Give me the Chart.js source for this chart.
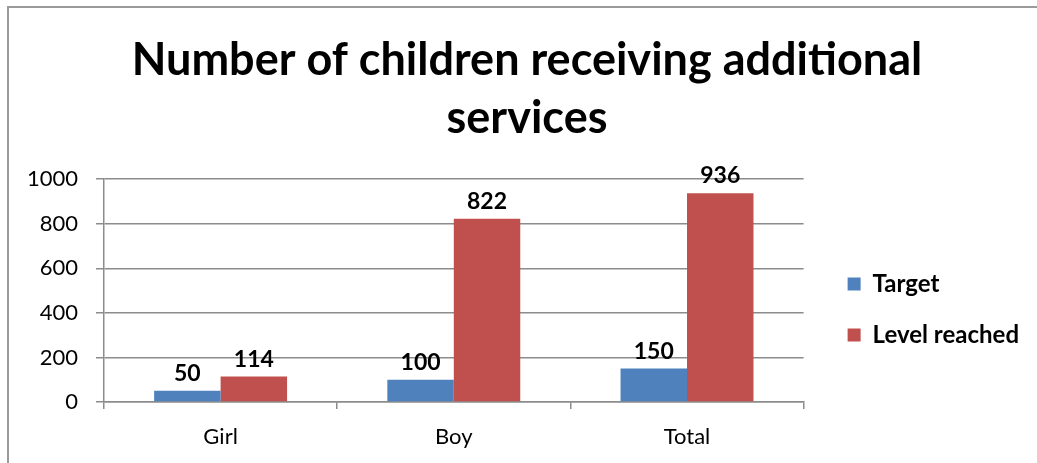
<!DOCTYPE html>
<html>
<head>
<meta charset="utf-8">
<script src="https://cdn.jsdelivr.net/npm/chart.js@4"></script>
<style>
  body { margin: 0; background: #fff; overflow: hidden; }
  #frame { position: absolute; left: 7px; top: 6px; width: 1100px; height: 520px; border: 2px solid #9a9a9a; box-sizing: border-box; }
  #wrap { position: absolute; left: 0; top: 0; width: 1037px; height: 463px; }
</style>
</head>
<body>
<div id="frame"></div>
<div id="wrap"><canvas id="childrenChart" width="1037" height="463"></canvas></div>
<script>
var categories = ["Girl", "Boy", "Total"];
var targetValues = [50, 100, 150];
var reachedValues = [114, 822, 936];
var yTicks = [0, 200, 400, 600, 800, 1000];

var gridColor = "#8c8c8c";
var fontFamily = "Lato, 'Open Sans', sans-serif";

// writes each bar's value just above it
var barValueLabels = {
  id: "barValueLabels",
  afterDatasetsDraw: function(chart) {
    var ctx = chart.ctx;
    ctx.save();
    ctx.fillStyle = "#000";
    ctx.font = "bold 23px " + fontFamily;
    ctx.textAlign = "center";
    ctx.textBaseline = "alphabetic";
    chart.data.datasets.forEach(function(ds, i) {
      chart.getDatasetMeta(i).data.forEach(function(bar, j) {
        ctx.fillText(String(ds.data[j]), bar.x, bar.y - 10);
      });
    });
    ctx.restore();
  }
};

new Chart("childrenChart", {
  type: "bar",
  data: {
    labels: categories,
    datasets: [{
      label: "Target",
      data: targetValues,
      backgroundColor: "#4f81bd"
    }, {
      label: "Level reached",
      data: reachedValues,
      backgroundColor: "#c0504d"
    }]
  },
  options: {
    responsive: false,
    animation: false,
    datasets: {
      bar: { categoryPercentage: 0.57, barPercentage: 1 }
    },
    layout: { padding: { top: 0, right: 8, bottom: 13, left: 25 } },
    plugins: {
      tooltip: { enabled: false },
      title: {
        display: true,
        text: ["Number of children receiving additional", "services"],
        color: "#000",
        font: { family: fontFamily, size: 45, weight: "bold", lineHeight: 1.29 },
        padding: { top: 31, bottom: 32 }
      },
      legend: {
        position: "right",
        fullSize: false,
        maxWidth: 260,
        title: { display: true, text: "", font: { size: 14, lineHeight: 1 }, padding: { top: 24, bottom: 0 } },
        labels: {
          boxWidth: 13,
          boxHeight: 13,
          padding: 27,
          color: "#000",
          font: { family: fontFamily, size: 24, weight: "bold" }
        }
      }
    },
    scales: {
      x: {
        afterFit: function(scale) { scale.height = 48; },
        grid: { drawOnChartArea: false, color: gridColor, tickLength: 7, lineWidth: 1.5 },
        border: { color: gridColor, width: 1.5 },
        ticks: { color: "#000", padding: 15, font: { family: fontFamily, size: 22 } }
      },
      y: {
        min: 0,
        max: 1000,
        afterFit: function(scale) { scale.width = 79; },
        afterBuildTicks: function(scale) {
          scale.ticks = yTicks.map(function(v) { return { value: v }; });
        },
        grid: { color: gridColor, tickLength: 8, lineWidth: 1.5 },
        border: { color: gridColor, width: 1.5 },
        ticks: {
          color: "#000",
          padding: 18,
          font: { family: fontFamily, size: 22 },
          callback: function(v) { return String(v); }
        }
      },
      gap: {
        type: "linear",
        position: "right",
        grid: { display: false },
        border: { display: false },
        ticks: { display: false },
        afterFit: function(scale) { scale.width = 17; }
      }
    }
  },
  plugins: [barValueLabels]
});
</script>
</body>
</html>
